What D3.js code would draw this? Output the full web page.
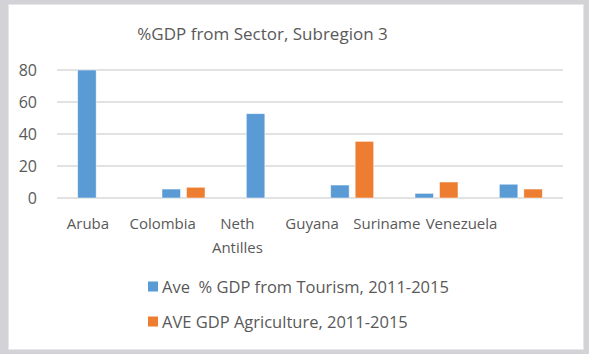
<!DOCTYPE html>
<html>
<head>
<meta charset="utf-8">
<script src="https://cdn.jsdelivr.net/npm/d3@7/dist/d3.min.js"></script>
<style>
  html, body { margin: 0; padding: 0; background: #d2d2d7; }
  svg { display: block; }
  text { font-family: "Open Sans", sans-serif; fill: #595959; white-space: pre; }
</style>
</head>
<body>
<svg id="chart" width="589" height="354"></svg>
<script>
// Categories and series
const countries = ["Aruba", "Colombia", "Neth Antilles", "Guyana", "Suriname", "Venezuela"];
const tourism = [80, 5.6, 52.7, 8.1, 2.9, 8.6];
const agriculture = [null, 6.7, null, 35.4, 10, 5.6];
const seriesNames = ["Ave  % GDP from Tourism, 2011-2015", "AVE GDP Agriculture, 2011-2015"];
const seriesColors = ["#5b9bd5", "#ed7d31"];
const yTicks = [0, 20, 40, 60, 80];
const title = "%GDP from Sector, Subregion 3";

const svg = d3.select("#chart");

// Chart frame
svg.append("rect").attr("x", 8.5).attr("y", 4.5).attr("width", 575).attr("height", 345)
  .attr("fill", "#ffffff").attr("stroke", "#e6e6e8").attr("stroke-width", 1);

const plot = { left: 57, right: 563, top: 70, bottom: 198 };

const x = d3.scaleBand().domain(countries).range([plot.left, plot.right]).padding(0);
const y = d3.scaleLinear().domain([0, 80]).range([plot.bottom, plot.top]);

// Gridlines
svg.append("g").selectAll("line").data(yTicks).join("line")
  .attr("x1", plot.left).attr("x2", plot.right)
  .attr("y1", d => y(d)).attr("y2", d => y(d))
  .attr("stroke", "#d9d9d9").attr("stroke-width", 1.3);

// Y axis labels
const yAxis = d3.axisLeft(y).tickValues(yTicks).tickSize(0).tickPadding(0);
const gy = svg.append("g").attr("transform", "translate(37,0)").call(yAxis);
gy.select(".domain").remove();
gy.selectAll("text").attr("font-size", 16).attr("font-family", "Open Sans, sans-serif")
  .attr("fill", "#595959").attr("dy", "0.36em");

// Bars
const barW = 18.5, gap = 6;
const series = [tourism, agriculture];
series.forEach((vals, si) => {
  svg.append("g").selectAll("rect")
    .data(countries.map((c, i) => ({ c, v: vals[i] })).filter(d => d.v != null))
    .join("rect")
    .attr("x", d => x(d.c) + x.bandwidth() / 2 + (si === 0 ? -gap / 2 - barW : gap / 2))
    .attr("y", d => y(d.v))
    .attr("width", barW)
    .attr("height", d => y(0) - y(d.v))
    .attr("fill", seriesColors[si])
    .attr("stroke", "#ffffff").attr("stroke-opacity", 0.6).attr("stroke-width", 0.8);
});

// Category labels
const xl = d3.scaleBand().domain(countries).range([50.6, 498.9]);
const xg = svg.append("g").attr("transform", "translate(0,229)");
xg.selectAll("text").data(countries).join("text")
  .attr("x", d => xl(d) + xl.bandwidth() / 2)
  .attr("text-anchor", "middle")
  .attr("font-size", 15)
  .each(function (d) {
    const words = d === "Neth Antilles" ? ["Neth", "Antilles"] : [d];
    d3.select(this).selectAll("tspan").data(words).join("tspan")
      .attr("x", xl(d) + xl.bandwidth() / 2)
      .attr("dy", (w, i) => i === 0 ? 0 : 23.5)
      .text(w => w);
  });

// Title
svg.append("text").attr("x", 262.5).attr("y", 40).attr("text-anchor", "middle")
  .attr("font-size", 17).text(title);

// Legend
const legend = svg.append("g");
seriesNames.forEach((name, i) => {
  const yy = 293 + i * 35;
  legend.append("rect").attr("x", 148).attr("y", yy - 11.5).attr("width", 10).attr("height", 10)
    .attr("fill", seriesColors[i]);
  legend.append("text").attr("x", 162).attr("y", yy).attr("font-size", 16.5).text(name);
});
</script>
</body>
</html>
